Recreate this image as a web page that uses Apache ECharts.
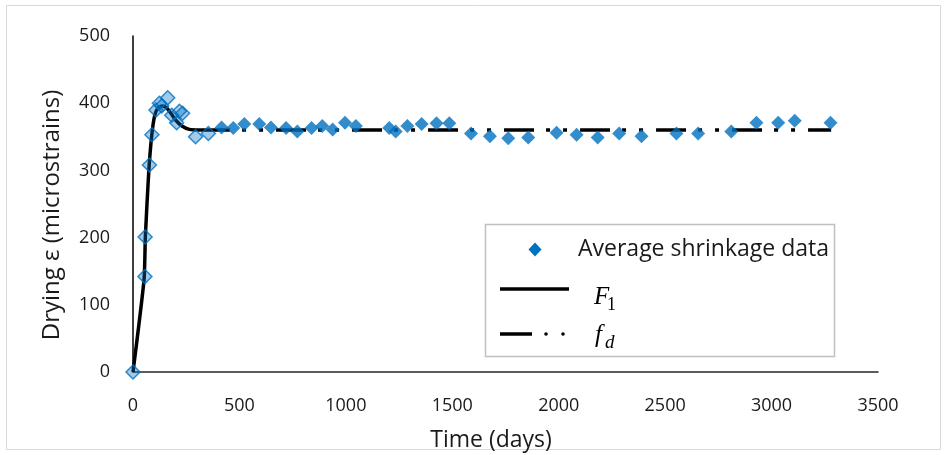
<!DOCTYPE html>
<html>
<head>
<meta charset="utf-8">
<script src="https://cdn.jsdelivr.net/npm/echarts@6/dist/echarts.min.js"></script>
<style>
  html, body { margin: 0; padding: 0; background: #fff; }
  #chart { width: 947px; height: 455px; }
</style>
</head>
<body>
<div id="chart"></div>
<script>
// Measured drying shrinkage, [time (days), strain (microstrains)]
const earlyShrinkage = [
  [0, 0], [56, 142], [57, 201], [77, 308], [89, 353], [108, 390], [124, 400],
  [135, 396], [163, 408], [182, 382], [205, 371], [218, 388], [233, 385],
  [294, 350], [354, 355]
];
const laterShrinkage = [
  [416, 364], [471, 363], [523, 369], [593, 369], [648, 364], [719, 363],
  [772, 358], [839, 363], [889, 366], [938, 361], [996, 371], [1047, 366],
  [1204, 363], [1234, 358], [1289, 366], [1356, 369], [1426, 370], [1486, 370],
  [1588, 355], [1677, 351], [1763, 348], [1857, 349], [1990, 356], [2084, 353],
  [2183, 349], [2284, 355], [2389, 351], [2553, 355], [2655, 355], [2811, 358],
  [2929, 371], [3031, 371], [3109, 374], [3277, 371]
];
// Fitted model F1 (early-age rise and overshoot)
const f1Curve = [
  [0, 0], [52, 138], [58, 201], [74, 298], [88, 352], [102, 382], [118, 393],
  [138, 396], [158, 393], [178, 385], [200, 375], [230, 366], [265, 361], [315, 360]
];
// Long-term model f_d
const fdCurve = [[315, 360], [3280, 360]];

const xTicks = { min: 0, max: 3500, interval: 500 };
const yTicks = { min: 0, max: 500, interval: 100 };

const BLUE = '#0070C0';
const FONT = 'Open Sans';
const TEXT = '#1a1a1a';

const chart = echarts.init(document.getElementById('chart'), null, { renderer: 'canvas' });

const shrinkageData = earlyShrinkage.map(p => ({
  value: p,
  itemStyle: { color: 'rgba(0,112,192,0.45)', borderColor: BLUE, borderWidth: 1.5 }
})).concat(laterShrinkage.map(p => ({ value: p })));

chart.setOption({
  animation: false,
  backgroundColor: '#fff',
  grid: { left: 133, right: 69, top: 36, bottom: 83, containLabel: false },
  xAxis: {
    type: 'value',
    min: xTicks.min, max: xTicks.max, interval: xTicks.interval,
    axisLine: { show: true, onZero: false, lineStyle: { color: '#262626', width: 1.5 } },
    axisTick: { show: false },
    splitLine: { show: false },
    axisLabel: { margin: 25, fontFamily: FONT, fontSize: 18, color: TEXT,
      formatter: v => String(v) }
  },
  yAxis: {
    type: 'value',
    min: yTicks.min, max: yTicks.max, interval: yTicks.interval,
    axisLine: { show: true, onZero: false, lineStyle: { color: '#000', width: 1.5 } },
    axisTick: { show: false },
    splitLine: { show: false },
    axisLabel: { margin: 23, fontFamily: FONT, fontSize: 18, color: TEXT,
      formatter: v => String(v) }
  },
  series: [
    {
      name: 'F1',
      type: 'line',
      data: f1Curve,
      smooth: 0.2,
      showSymbol: false,
      lineStyle: { color: '#000', width: 3.5 },
      z: 2
    },
    {
      name: 'fd',
      type: 'line',
      data: fdCurve,
      showSymbol: false,
      lineStyle: { color: '#000', width: 3.5, type: [30, 12, 4, 13, 4, 13], cap: 'butt' },
      z: 2
    },
    {
      name: 'Average shrinkage data',
      type: 'scatter',
      data: shrinkageData,
      symbol: 'diamond',
      symbolSize: 14,
      itemStyle: { color: BLUE },
      z: 3
    }
  ],
  graphic: [
    // chart area frame
    { type: 'rect', shape: { x: 6.5, y: 5.5, width: 934, height: 444 },
      style: { fill: null, stroke: '#d9d9d9', lineWidth: 1 }, silent: true, z: -1 },
    // axis titles
    { type: 'text', x: 491, y: 440, z: 5,
      style: { text: 'Time (days)', fontFamily: FONT, fontSize: 23, fill: TEXT,
        align: 'center', verticalAlign: 'middle' } },
    { type: 'text', x: 52, y: 215, rotation: Math.PI / 2, z: 5,
      style: { text: 'Drying ε (microstrains)', fontFamily: FONT, fontSize: 24, fill: TEXT,
        align: 'center', verticalAlign: 'middle' } },
    // legend box
    { type: 'rect', shape: { x: 485.5, y: 224.5, width: 349, height: 132 },
      style: { fill: '#fff', stroke: '#bfbfbf', lineWidth: 1.5 }, z: 10 },
    { type: 'polygon', z: 11,
      shape: { points: [[535, 242.5], [541.5, 249.5], [535, 256.5], [528.5, 249.5]] },
      style: { fill: BLUE } },
    { type: 'text', z: 11, x: 578, y: 249,
      style: { text: 'Average shrinkage data', fontFamily: FONT, fontSize: 23, fill: TEXT,
        verticalAlign: 'middle' } },
    { type: 'line', z: 11, shape: { x1: 500, y1: 289, x2: 569, y2: 289 },
      style: { stroke: '#000', lineWidth: 3.5 } },
    { type: 'text', z: 11, x: 594, y: 285,
      style: { text: 'F', fontFamily: 'Liberation Serif', fontStyle: 'italic', fontSize: 25, fill: '#000' } },
    { type: 'text', z: 11, x: 607, y: 296,
      style: { text: '1', fontFamily: 'Liberation Serif', fontSize: 18, fill: '#000' } },
    { type: 'line', z: 11, shape: { x1: 500, y1: 334, x2: 532, y2: 334 },
      style: { stroke: '#000', lineWidth: 3.5 } },
    { type: 'circle', z: 11, shape: { cx: 546, cy: 334, r: 1.8 }, style: { fill: '#000' } },
    { type: 'circle', z: 11, shape: { cx: 563, cy: 334, r: 1.8 }, style: { fill: '#000' } },
    { type: 'text', z: 11, x: 595, y: 323,
      style: { text: 'f', fontFamily: 'Liberation Serif', fontStyle: 'italic', fontSize: 25, fill: '#000' } },
    { type: 'text', z: 11, x: 605, y: 333,
      style: { text: 'd', fontFamily: 'Liberation Serif', fontStyle: 'italic', fontSize: 19, fill: '#000' } }
  ]
});
</script>
</body>
</html>
